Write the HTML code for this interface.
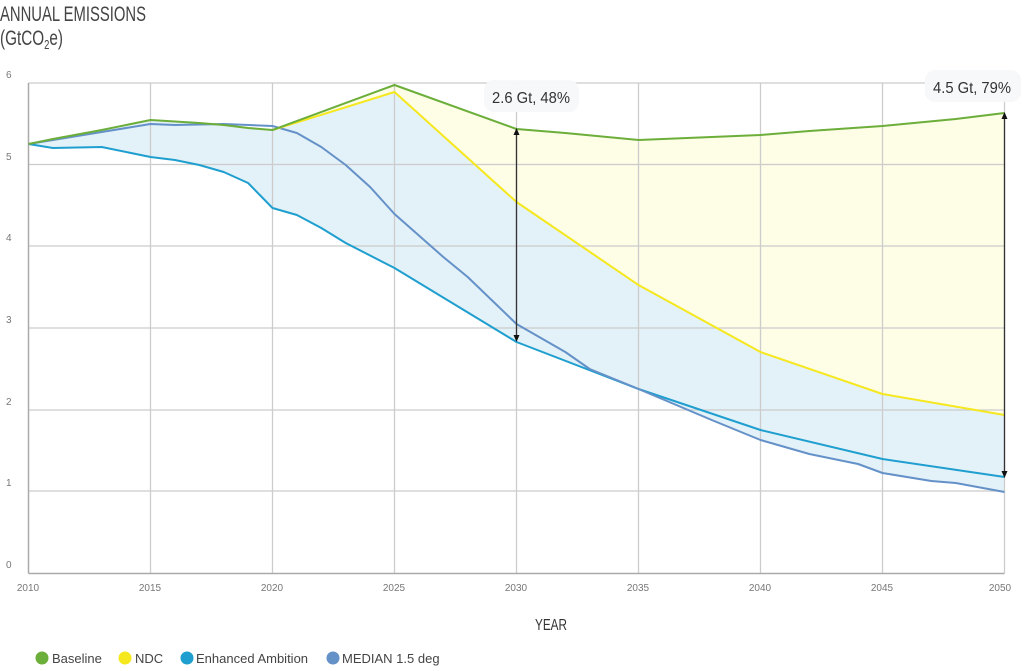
<!DOCTYPE html>
<html><head><meta charset="utf-8"><style>
body{margin:0;background:#fff;width:1024px;height:666px;overflow:hidden;font-family:"Liberation Sans",sans-serif}
</style></head><body>
<svg width="1024" height="666" xmlns="http://www.w3.org/2000/svg">
<text x="0" y="21" font-family="Liberation Sans, sans-serif" font-size="21" fill="#444" textLength="146" lengthAdjust="spacingAndGlyphs">ANNUAL EMISSIONS</text>
<text x="0" y="45" font-family="Liberation Sans, sans-serif" font-size="21" fill="#444" textLength="63" lengthAdjust="spacingAndGlyphs">(GtCO<tspan font-size="13" dy="4">2</tspan><tspan dy="-4">e)</tspan></text>
<polygon fill="#e3f1f8" points="28.5,144 52.9,139 101.7,130 150.5,120 199.3,123 223.7,125 248.1,128 272.5,130 394.5,92 516.5,202 638.5,285 760.5,352 882.5,394 1004.5,415 1004.5,492 955.7,483 931.3,481 882.5,473 858.1,464 809.3,454 784.9,447 760.5,440 711.7,420 638.5,389 516.5,342 394.5,268 345.7,243 321.3,228 296.9,215 272.5,208 248.1,183 223.7,172 199.3,165 174.9,160 150.5,157 101.7,147 52.9,148"/>
<polygon fill="#fefde6" points="272.5,130 394.5,85 516.5,129 565.3,133 638.5,140 760.5,135 809.3,131 882.5,126 955.7,119 1004.5,113 1004.5,415 882.5,394 760.5,352 638.5,285 516.5,202 394.5,92"/>
<g stroke="#ccc" stroke-width="1.3">
<line x1="28.5" y1="83" x2="1004.5" y2="83"/><line x1="28.5" y1="164.5" x2="1004.5" y2="164.5"/><line x1="28.5" y1="246" x2="1004.5" y2="246"/><line x1="28.5" y1="328" x2="1004.5" y2="328"/><line x1="28.5" y1="410" x2="1004.5" y2="410"/><line x1="28.5" y1="491" x2="1004.5" y2="491"/>
<line x1="150.5" y1="83" x2="150.5" y2="573"/><line x1="272.5" y1="83" x2="272.5" y2="573"/><line x1="394.5" y1="83" x2="394.5" y2="573"/><line x1="516.5" y1="83" x2="516.5" y2="573"/><line x1="638.5" y1="83" x2="638.5" y2="573"/><line x1="760.5" y1="83" x2="760.5" y2="573"/><line x1="882.5" y1="83" x2="882.5" y2="573"/><line x1="1004.5" y1="83" x2="1004.5" y2="573"/>
</g>
<g stroke="#aaa" stroke-width="1.5"><line x1="28.5" y1="83" x2="28.5" y2="573.5"/><line x1="28.5" y1="573.5" x2="1004.5" y2="573.5"/></g>
<g font-family="Liberation Sans, sans-serif" font-size="10" fill="#777">
<text x="6" y="78">6</text><text x="6" y="160">5</text><text x="6" y="241">4</text><text x="6" y="323">3</text><text x="6" y="405">2</text><text x="6" y="486">1</text><text x="6" y="568">0</text>
<g text-anchor="middle"><text x="28" y="591">2010</text><text x="150" y="591">2015</text><text x="272" y="591">2020</text><text x="394" y="591">2025</text><text x="516" y="591">2030</text><text x="638" y="591">2035</text><text x="760" y="591">2040</text><text x="882" y="591">2045</text><text x="1000" y="591">2050</text></g>
</g>
<text x="551" y="630" text-anchor="middle" font-family="Liberation Sans, sans-serif" font-size="16" fill="#333" textLength="32" lengthAdjust="spacingAndGlyphs">YEAR</text>
<g fill="none" stroke-width="2" stroke-linejoin="round">
<polyline stroke="#1f9fcf" points="28.5,144 52.9,148 101.7,147 150.5,157 174.9,160 199.3,165 223.7,172 248.1,183 272.5,208 296.9,215 321.3,228 345.7,243 394.5,268 516.5,342 638.5,389 760.5,430 882.5,459 1004.5,477"/>
<polyline stroke="#6491c8" points="28.5,144 101.7,132 150.5,124 174.9,125 223.7,124 272.5,126 296.9,133 321.3,147 345.7,165 370.1,187 394.5,214 443.3,257 467.7,277 516.5,324 565.3,352 589.7,369 638.5,389 711.7,420 760.5,440 784.9,447 809.3,454 858.1,464 882.5,473 931.3,481 955.7,483 1004.5,492"/>
<polyline stroke="#f5e81e" points="272.5,130 394.5,92 516.5,202 638.5,285 760.5,352 882.5,394 1004.5,415"/>
<polyline stroke="#6cae3a" points="28.5,144 52.9,139 101.7,130 150.5,120 199.3,123 223.7,125 248.1,128 272.5,130 394.5,85 516.5,129 565.3,133 638.5,140 760.5,135 809.3,131 882.5,126 955.7,119 1004.5,113"/>
</g>
<g stroke="#333" stroke-width="1.3"><line x1="516.5" y1="134" x2="516.5" y2="336"/><line x1="1004.5" y1="118" x2="1004.5" y2="471"/></g>
<g fill="#111"><polygon points="516.5,128 513.5,135 519.5,135"/><polygon points="516.5,342 513.5,335 519.5,335"/><polygon points="1004.5,112 1001.5,119 1007.5,119"/><polygon points="1004.5,478 1001.5,471 1007.5,471"/></g>
<rect x="484" y="80" width="95" height="32" rx="10" fill="#f7f8f9" opacity="0.95"/>
<text x="531" y="103" text-anchor="middle" font-family="Liberation Sans, sans-serif" font-size="16" fill="#333" textLength="78" lengthAdjust="spacingAndGlyphs">2.6 Gt, 48%</text>
<rect x="925" y="70" width="96" height="32" rx="10" fill="#f7f8f9" opacity="0.95"/>
<text x="972" y="93" text-anchor="middle" font-family="Liberation Sans, sans-serif" font-size="16" fill="#333" textLength="78" lengthAdjust="spacingAndGlyphs">4.5 Gt, 79%</text>
<g font-family="Liberation Sans, sans-serif" font-size="13" fill="#444">
<circle cx="42" cy="658" r="6.5" fill="#6cae3a"/><text x="52" y="663">Baseline</text>
<circle cx="125" cy="658" r="6.5" fill="#f5e81e"/><text x="135" y="663">NDC</text>
<circle cx="187" cy="658" r="6.5" fill="#1f9fcf"/><text x="196" y="663">Enhanced Ambition</text>
<circle cx="333" cy="658" r="6.5" fill="#6491c8"/><text x="342" y="663">MEDIAN 1.5 deg</text>
</g>
</svg>
</body></html>
